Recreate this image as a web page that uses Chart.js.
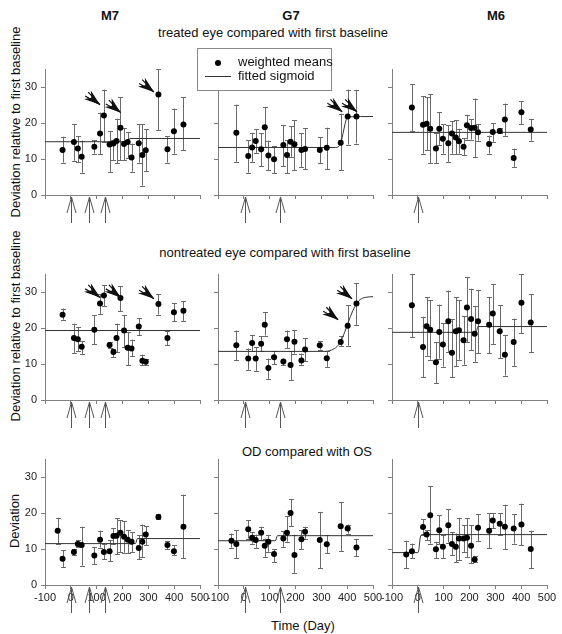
<!DOCTYPE html>
<html><head><meta charset="utf-8">
<script src="https://cdn.jsdelivr.net/npm/chart.js@4/dist/chart.umd.min.js"></script>
<style>
body{margin:0;width:562px;height:634px;position:relative;background:#fff;font-family:"Liberation Sans",Arial,Helvetica,sans-serif;overflow:hidden}
canvas{position:absolute}
.t{position:absolute;white-space:nowrap;color:#111;font-size:13px;transform:translate(-50%,-50%)}
.b{font-weight:bold;font-size:13px}
.r{transform:translate(-50%,-50%) rotate(-90deg)}
#legend{position:absolute;left:197px;top:48px;width:133px;height:41px;border:1px solid #888;background:#fff;z-index:5;font-size:13px;color:#111}
#legend div{white-space:nowrap}
</style></head><body>

<div class="t b" style="left:110px;top:15px">M7</div>
<div class="t b" style="left:291px;top:15px">G7</div>
<div class="t b" style="left:496px;top:15px">M6</div>
<div class="t" style="left:273px;top:32px">treated eye compared with first baseline</div>
<div class="t" style="left:285px;top:252px">nontreated eye compared with first baseline</div>
<div class="t" style="left:307px;top:451px">OD compared with OS</div>
<div class="t r" style="left:15px;top:122px">Deviation relative to first baseline</div>
<div class="t r" style="left:15px;top:326px">Deviation relative to first baseline</div>
<div class="t r" style="left:14px;top:521px">Deviation</div>
<div class="t" style="left:303px;top:625px">Time (Day)</div>

<div id="legend">
  <div style="position:absolute;left:17px;top:11px;width:6px;height:6px;border-radius:3px;background:#000"></div>
  <div style="position:absolute;left:40px;top:5px">weighted means</div>
  <div style="position:absolute;left:7px;top:27px;width:26px;height:1px;background:#333"></div>
  <div style="position:absolute;left:40px;top:19px">fitted sigmoid</div>
</div>

<script>
const FONT = '"Liberation Sans", Arial, Helvetica, sans-serif';
const xTickValues = [-100, 0, 100, 200, 300, 400, 500];
const yTickValues = [0, 10, 20, 30];

// ---- Days of measurement ----
const daysM7 = [-32, 12, 27, 42, 91, 113, 128, 150, 165, 177, 192, 206, 220, 235, 263, 277, 290, 339, 374, 399, 436];
const daysM7od = [-51, -32, 12, 27, 42, 91, 113, 128, 150, 165, 177, 192, 206, 220, 235, 263, 277, 290, 339, 374, 399, 436];
const daysG7 = [-29, 17, 32, 46, 67, 81, 95, 117, 153, 167, 181, 196, 223, 237, 294, 321, 375, 402, 436];
const daysG7od = [-48, -29, 17, 32, 46, 67, 81, 95, 117, 153, 167, 181, 196, 223, 237, 294, 321, 375, 402, 436];
const daysM6 = [-23, 20, 34, 48, 70, 83, 97, 118, 132, 147, 159, 177, 190, 206, 220, 233, 276, 290, 317, 337, 371, 401, 437];
const daysM6od = [-45, -23, 20, 34, 48, 70, 83, 97, 118, 132, 147, 159, 177, 190, 206, 220, 233, 276, 290, 317, 337, 371, 401, 437];

// ---- Treatment days (open arrows) ----
const treatM7 = [0, 72, 133];
const treatG7 = [3, 139];
const treatM6 = [2];

// ---- M7 treated ----
const m7TrMean = [12.5, 14.7, 12.9, 10.6, 13.4, 17.1, 22.1, 14.0, 14.3, 15.0, 18.7, 14.2, 14.7, 10.4, 14.4, 11.1, 12.4, 27.9, 12.7, 17.7, 19.6];
const m7TrHi   = [16.2, 19.6, 16.4, 15.1, 15.2, 22.9, 29.3, 17.7, 15.4, 21.2, 27.2, 18.5, 17.5, 14.3, 19.7, 19.7, 18.2, 35.0, 16.4, 24.0, 27.1];
const m7TrLo   = [9.0, 9.5, 9.1, 6.2, 11.5, 11.3, 14.8, 6.3, 9.7, 8.8, 9.7, 9.7, 10.4, 6.5, 9.0, 2.6, 6.6, 18.0, 9.0, 11.5, 12.5];
const m7TrFitDays = [-100, 222, 228, 500];
const m7TrFitVals = [14.8, 14.8, 15.7, 15.7];
const m7TrMarks = [[113, 25.1], [193, 22.9], [322, 28.6]];

// ---- G7 treated ----
const g7TrMean = [17.3, 10.8, 13.2, 15.0, 12.7, 18.8, 11.0, 9.9, 13.9, 11.1, 14.8, 14.1, 12.5, 12.8, 12.5, 13.1, 14.5, 21.8, 21.8];
const g7TrHi   = [25.1, 15.2, 17.3, 18.2, 17.1, 24.5, 15.1, 13.6, 19.4, 15.2, 19.1, 20.8, 17.1, 18.5, 16.0, 18.7, 22.6, 29.3, 29.1];
const g7TrLo   = [9.2, 6.2, 9.2, 11.7, 8.0, 13.2, 6.9, 6.0, 8.0, 6.0, 10.6, 6.9, 7.7, 7.1, 8.8, 7.1, 6.9, 14.0, 14.3];
const g7TrFitDays = [-100, 355, 368, 376, 385, 395, 402, 500];
const g7TrFitVals = [13.2, 13.2, 13.5, 14.5, 17.5, 20.6, 21.7, 21.8];
const g7TrMarks = [[381, 23.1], [438, 23.1]];

// ---- M6 treated ----
const m6TrMean = [24.3, 19.5, 19.8, 18.4, 12.9, 18.4, 15.6, 14.4, 17.1, 16.0, 14.9, 13.4, 19.4, 18.6, 18.7, 17.4, 14.2, 17.5, 17.8, 21.0, 10.3, 23.0, 18.2];
const m6TrHi   = [30.7, 27.4, 27.1, 28.0, 17.3, 23.0, 19.6, 19.4, 20.5, 20.8, 18.4, 15.7, 22.3, 21.0, 26.8, 19.7, 16.5, 20.0, 18.5, 25.4, 12.9, 26.1, 21.1];
const m6TrLo   = [17.7, 11.5, 12.5, 8.8, 8.8, 13.9, 11.5, 9.2, 11.5, 11.3, 11.5, 11.1, 15.4, 15.4, 10.6, 15.1, 11.5, 14.8, 17.1, 16.4, 7.8, 19.7, 15.1];
const m6TrFitDays = [-100, 500];
const m6TrFitVals = [17.4, 17.4];
const m6TrMarks = [];

// ---- M7 nontreated ----
const m7NtMean = [23.7, 17.2, 16.9, 14.8, 19.5, 26.8, 29.0, 15.3, 13.3, 17.2, 28.3, 19.3, 14.5, 14.3, 20.4, 10.9, 10.6, 26.7, 17.2, 24.4, 24.8];
const m7NtHi   = [25.4, 21.2, 20.2, 16.3, 23.5, 29.4, 31.9, 16.1, 14.3, 21.2, 31.6, 23.6, 18.9, 16.8, 22.8, 12.6, 11.4, 29.4, 19.3, 26.9, 27.4];
const m7NtLo   = [22.3, 13.1, 13.5, 12.8, 15.6, 23.9, 26.0, 14.4, 11.9, 13.3, 24.6, 14.6, 9.6, 12.1, 18.0, 9.6, 9.8, 23.7, 15.2, 21.9, 22.0];
const m7NtFitDays = [-100, 500];
const m7NtFitVals = [19.3, 19.3];
const m7NtMarks = [[113, 28.5], [193, 28.5], [322, 28.1]];

// ---- G7 nontreated ----
const g7NtMean = [15.2, 11.5, 15.8, 11.5, 15.6, 20.9, 8.9, 11.9, 10.7, 16.9, 9.7, 16.2, 11.0, 14.0, 15.2, 11.6, 16.1, 20.6, 26.8];
const g7NtHi   = [19.3, 14.3, 18.0, 14.6, 17.7, 24.4, 11.5, 13.5, 11.2, 19.3, 13.5, 19.5, 12.9, 17.2, 16.3, 13.5, 17.7, 26.3, 32.5];
const g7NtLo   = [11.0, 8.4, 13.5, 8.1, 13.5, 17.9, 5.9, 10.0, 9.6, 14.4, 5.6, 12.9, 9.8, 10.7, 14.0, 9.2, 14.9, 15.1, 20.9];
const g7NtFitDays = [-100, 310, 340, 360, 375, 390, 405, 420, 435, 450, 470, 500];
const g7NtFitVals = [13.5, 13.5, 13.9, 14.8, 16.2, 18.8, 21.7, 24.5, 26.6, 27.9, 28.5, 28.7];
const g7NtMarks = [[365, 22.3], [419, 28.1]];

// ---- M6 nontreated ----
const m6NtMean = [26.3, 14.7, 20.5, 19.5, 10.5, 18.9, 15.4, 21.9, 13.1, 19.1, 19.4, 16.6, 25.7, 22.5, 18.4, 21.9, 20.9, 24.0, 19.1, 12.6, 16.1, 27.0, 21.5];
const m6NtHi   = [35.0, 23.1, 28.6, 27.7, 16.1, 26.5, 21.4, 30.4, 22.5, 28.6, 27.7, 23.3, 34.1, 30.9, 26.0, 30.6, 28.6, 32.2, 26.3, 18.1, 22.6, 35.0, 29.4];
const m6NtLo   = [17.4, 6.4, 12.3, 11.2, 4.7, 11.5, 9.3, 13.3, 6.4, 9.4, 11.2, 9.8, 16.1, 13.8, 10.6, 13.0, 13.0, 15.6, 11.7, 6.8, 9.5, 18.6, 13.3];
const m6NtFitDays = [-100, 226, 232, 500];
const m6NtFitVals = [18.8, 18.8, 20.4, 20.4];
const m6NtMarks = [];

// ---- M7 OD vs OS ----
const m7OdMean = [15.1, 7.3, 9.2, 11.4, 11.1, 8.2, 12.6, 9.2, 9.4, 13.6, 13.7, 14.5, 13.4, 12.6, 12.0, 10.3, 12.0, 14.0, 18.9, 11.1, 9.4, 16.2];
const m7OdHi   = [18.7, 9.7, 10.0, 12.5, 16.2, 10.6, 15.1, 11.4, 12.5, 15.7, 18.5, 18.0, 17.7, 15.2, 14.6, 13.9, 16.8, 16.3, 19.8, 12.2, 11.1, 25.1];
const m7OdLo   = [11.4, 4.9, 8.3, 10.6, 5.4, 5.8, 10.4, 7.2, 6.6, 11.4, 8.5, 9.2, 9.0, 8.8, 9.2, 7.1, 7.7, 11.1, 18.2, 10.0, 8.3, 7.4];
const m7OdFitDays = [-100, 250, 258, 500];
const m7OdFitVals = [11.5, 11.5, 12.9, 12.9];

// ---- G7 OD vs OS ----
const g7OdMean = [12.3, 11.4, 15.5, 13.1, 12.5, 14.5, 10.9, 12.0, 8.6, 12.9, 14.5, 20.0, 8.3, 12.7, 14.8, 12.5, 11.3, 16.3, 15.7, 10.4];
const g7OdHi   = [14.3, 15.2, 18.0, 14.6, 14.0, 16.2, 12.9, 13.9, 10.0, 15.0, 19.1, 23.8, 14.0, 15.2, 16.2, 20.3, 13.9, 23.1, 16.8, 12.7];
const g7OdLo   = [10.4, 7.4, 12.9, 11.5, 10.3, 12.5, 7.8, 9.2, 6.3, 10.6, 12.0, 16.4, 3.4, 10.0, 12.9, 4.6, 8.8, 9.4, 14.3, 8.0];
const g7OdFitDays = [-100, 122, 130, 500];
const g7OdFitVals = [12.3, 12.3, 13.7, 13.7];

// ---- M6 OD vs OS ----
const m6OdMean = [8.5, 9.4, 16.1, 14.0, 19.4, 9.9, 15.2, 10.6, 16.6, 11.4, 10.6, 12.9, 12.9, 13.1, 10.9, 7.1, 15.9, 15.1, 17.9, 17.0, 16.2, 15.7, 16.8, 10.0];
const m6OdHi   = [12.3, 11.5, 18.3, 15.2, 27.5, 12.0, 19.4, 13.9, 21.1, 14.6, 14.3, 18.7, 16.6, 18.5, 16.6, 8.0, 19.6, 19.9, 19.9, 19.9, 22.3, 19.6, 22.6, 15.1];
const m6OdLo   = [4.6, 7.4, 13.9, 12.5, 11.5, 7.4, 11.4, 7.4, 11.8, 8.3, 6.3, 6.9, 9.2, 7.8, 6.0, 6.5, 12.2, 10.2, 15.7, 14.0, 10.0, 11.5, 11.1, 4.6];
const m6OdFitDays = [-100, 0, 4, 8, 12, 20, 500];
const m6OdFitVals = [9.0, 9.0, 9.8, 12.5, 13.8, 14.0, 14.0];

const panels = [
  {row:0,col:0,days:daysM7,mean:m7TrMean,hi:m7TrHi,lo:m7TrLo,fd:m7TrFitDays,fv:m7TrFitVals,treat:treatM7,marks:m7TrMarks},
  {row:0,col:1,days:daysG7,mean:g7TrMean,hi:g7TrHi,lo:g7TrLo,fd:g7TrFitDays,fv:g7TrFitVals,treat:treatG7,marks:g7TrMarks},
  {row:0,col:2,days:daysM6,mean:m6TrMean,hi:m6TrHi,lo:m6TrLo,fd:m6TrFitDays,fv:m6TrFitVals,treat:treatM6,marks:m6TrMarks},
  {row:1,col:0,days:daysM7,mean:m7NtMean,hi:m7NtHi,lo:m7NtLo,fd:m7NtFitDays,fv:m7NtFitVals,treat:treatM7,marks:m7NtMarks},
  {row:1,col:1,days:daysG7,mean:g7NtMean,hi:g7NtHi,lo:g7NtLo,fd:g7NtFitDays,fv:g7NtFitVals,treat:treatG7,marks:g7NtMarks},
  {row:1,col:2,days:daysM6,mean:m6NtMean,hi:m6NtHi,lo:m6NtLo,fd:m6NtFitDays,fv:m6NtFitVals,treat:treatM6,marks:m6NtMarks},
  {row:2,col:0,days:daysM7od,mean:m7OdMean,hi:m7OdHi,lo:m7OdLo,fd:m7OdFitDays,fv:m7OdFitVals,treat:treatM7,marks:[]},
  {row:2,col:1,days:daysG7od,mean:g7OdMean,hi:g7OdHi,lo:g7OdLo,fd:g7OdFitDays,fv:g7OdFitVals,treat:treatG7,marks:[]},
  {row:2,col:2,days:daysM6od,mean:m6OdMean,hi:m6OdHi,lo:m6OdLo,fd:m6OdFitDays,fv:m6OdFitVals,treat:treatM6,marks:[]}
];

// layout
const axisX = [45, 218, 392];
const plotTop = [69, 274, 459];
const PLOT_W = 155, PLOT_H = 126, LEFT = 45, TOPPAD = 8, RIGHTPAD = 15, BOTTOM = 30;

function makeChart(p) {
  const cv = document.createElement('canvas');
  const w = LEFT + PLOT_W + RIGHTPAD, h = TOPPAD + PLOT_H + BOTTOM;
  cv.width = w; cv.height = h;
  cv.style.left = (axisX[p.col] - LEFT) + 'px';
  cv.style.top = (plotTop[p.row] - TOPPAD) + 'px';
  cv.style.width = w + 'px'; cv.style.height = h + 'px';
  document.body.appendChild(cv);

  const showX = p.row === 2, showY = p.col === 0;
  const pts = p.days.map((d, i) => ({x: d, y: p.mean[i]}));
  const fit = p.fd.map((d, i) => ({x: d, y: p.fv[i]}));

  const annot = {
    id: 'annot' + p.row + p.col,
    beforeDatasetsDraw(chart) {
      const c = chart.ctx, xs = chart.scales.x, ys = chart.scales.y;
      c.save();
      c.strokeStyle = '#6a6a6a'; c.lineWidth = 1;
      p.days.forEach((d, i) => {
        const x = Math.round(xs.getPixelForValue(d)) + 0.5;
        const yh = ys.getPixelForValue(p.hi[i]);
        const yl = ys.getPixelForValue(p.lo[i]);
        c.beginPath();
        c.moveTo(x, yh); c.lineTo(x, yl);
        c.moveTo(x - 2.5, Math.round(yh) + 0.5); c.lineTo(x + 2.5, Math.round(yh) + 0.5);
        c.moveTo(x - 2.5, Math.round(yl) + 0.5); c.lineTo(x + 2.5, Math.round(yl) + 0.5);
        c.stroke();
      });
      c.restore();
    },
    afterDatasetsDraw(chart) {
      const c = chart.ctx, xs = chart.scales.x, ys = chart.scales.y, ca = chart.chartArea;
      c.save();
      // open arrows below the axis (treatment days)
      c.strokeStyle = '#555'; c.lineWidth = 1;
      p.treat.forEach(d => {
        const x = Math.round(xs.getPixelForValue(d)) + 0.5;
        const t = ca.bottom + 2;
        c.beginPath();
        c.moveTo(x, t); c.lineTo(x, t + 26);
        c.moveTo(x - 4.5, t + 16); c.lineTo(x, t); c.lineTo(x + 4.5, t + 16);
        c.stroke();
      });
      // bold black arrowheads
      c.fillStyle = '#111'; c.strokeStyle = '#111';
      p.marks.forEach(m => {
        const tx = xs.getPixelForValue(m[0]), ty = ys.getPixelForValue(m[1]);
        c.save();
        c.translate(tx, ty);
        c.rotate(Math.atan2(33, 42));
        c.beginPath();
        c.moveTo(0, 0);
        c.lineTo(-16, -5.5);
        c.lineTo(-11, 0);
        c.lineTo(-16, 5.5);
        c.closePath();
        c.fill();
        c.lineWidth = 1.2;
        c.beginPath();
        c.moveTo(0, 0); c.lineTo(-17, -2.5);
        c.moveTo(0, 0); c.lineTo(-17, 2.5);
        c.stroke();
        c.restore();
      });
      c.restore();
    }
  };

  return new Chart(cv, {
    type: 'scatter',
    data: {
      datasets: [
        {label: 'weighted means', data: pts, pointRadius: 3, pointHoverRadius: 3,
         backgroundColor: '#000', borderColor: '#000', borderWidth: 0, showLine: false},
        {label: 'fitted sigmoid', data: fit, showLine: true, pointRadius: 0, borderColor: '#333',
         borderWidth: 1, fill: false, tension: 0.3, cubicInterpolationMode: 'monotone'}
      ]
    },
    options: {
      responsive: false, animation: false, events: [],
      devicePixelRatio: 1,
      layout: {padding: {top: TOPPAD, right: RIGHTPAD, left: 0, bottom: 0}},
      plugins: {legend: {display: false}, tooltip: {enabled: false}},
      scales: {
        x: {
          type: 'linear', min: -100, max: 500,
          afterBuildTicks: s => { s.ticks = xTickValues.map(v => ({value: v})); },
          afterFit: s => { s.height = BOTTOM; s.paddingLeft = 0; s.paddingRight = 0; },
          grid: {drawOnChartArea: false, drawTicks: true, tickLength: 4, color: '#808080'},
          border: {display: true, color: '#808080'},
          ticks: {display: true, font: {family: FONT, size: 11}, color: '#222', maxRotation: 0,
                  autoSkip: false, padding: 2, callback: v => showX ? String(v) : ''}
        },
        y: {
          type: 'linear', min: 0, max: 35,
          afterBuildTicks: s => { s.ticks = yTickValues.map(v => ({value: v})); },
          afterFit: s => { s.width = LEFT; s.paddingTop = 0; s.paddingBottom = 0; },
          grid: {drawOnChartArea: false, drawTicks: true, tickLength: 4, color: '#808080'},
          border: {display: true, color: '#808080'},
          ticks: {font: {family: FONT, size: 11}, color: '#222', padding: 4, autoSkip: false,
                  callback: v => showY ? String(v) : ''}
        }
      }
    },
    plugins: [annot]
  });
}

panels.forEach(makeChart);
</script>
</body></html>
